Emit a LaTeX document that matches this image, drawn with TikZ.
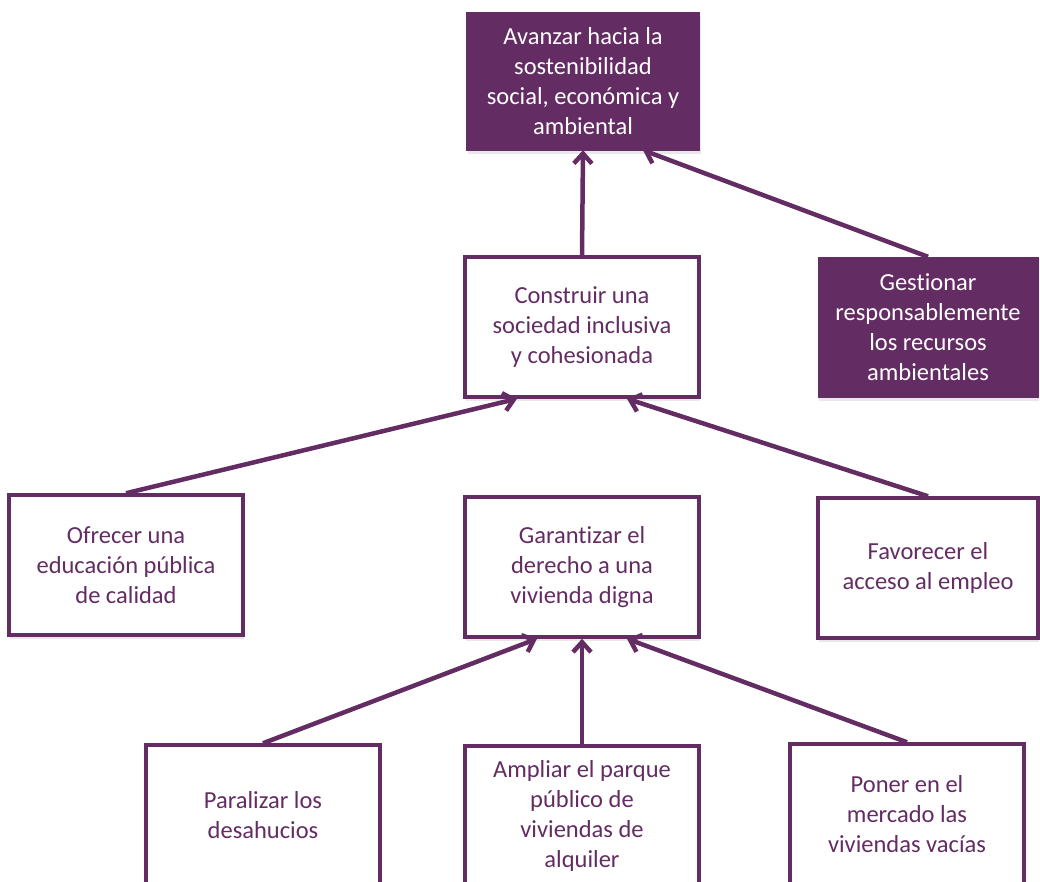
\documentclass[tikz,border=0pt]{standalone}
\usepackage{fontspec}
\setmainfont{Carlito}[Ligatures=NoCommon]
\usetikzlibrary{arrows.meta,shadows}
\definecolor{plum}{HTML}{632C63}
\tikzset{
  box/.style={rectangle, minimum width=234pt, minimum height=140pt, inner sep=2pt,
    align=center, font=\fontsize{24.5}{30}\selectfont,
    drop shadow={opacity=0.18, shadow xshift=1pt, shadow yshift=-4pt}},
  plainbox/.style={box, draw=plum, line width=3.5pt, fill=white, text=plum},
  darkbox/.style={box, fill=plum, draw=plum, text=white},
  link/.style={draw=plum, line width=4.5pt, -{Straight Barb[length=10pt,width=18pt,line width=4.5pt]}}
}
\begin{document}
\begin{tikzpicture}[x=1pt,y=-1pt]
\useasboundingbox (0,0) rectangle (1040,882);
\clip (0,0) rectangle (1040,882);
\node[darkbox, minimum width=233pt, minimum height=138pt] (top) at (583,81) {Avanzar hacia la\\sostenibilidad\\social, económica y\\ambiental};
\node[plainbox] (construir) at (582,327) {Construir una\\sociedad inclusiva\\y cohesionada};
\node[darkbox, minimum width=220pt] (gestionar) at (928,327) {Gestionar\\responsablemente\\los recursos\\ambientales};
\node[plainbox] (ofrecer) at (126,565) {Ofrecer una\\educación pública\\de calidad};
\node[plainbox] (garantizar) at (582,567) {Garantizar el\\derecho a una\\vivienda digna};
\node[plainbox, minimum width=220pt] (favorecer) at (928,568) {Favorecer el\\acceso al empleo};
\node[plainbox] (paralizar) at (263,815) {Paralizar los\\desahucios};
\node[plainbox] (ampliar) at (582,816) {Ampliar el parque\\público de\\viviendas de\\alquiler};
\node[plainbox] (poner) at (907,814) {Poner en el\\mercado las\\viviendas vacías};
\draw[link] (construir.north) -- (top.south);
\draw[link] (gestionar.north) -- ([xshift=60pt]top.south);
\draw[link] (ofrecer.north) -- ([xshift=-65pt]construir.south);
\draw[link] (favorecer.north) -- ([xshift=45pt]construir.south);
\draw[link] (paralizar.north) -- ([xshift=-45pt]garantizar.south);
\draw[link] (ampliar.north) -- (garantizar.south);
\draw[link] (poner.north) -- ([xshift=45pt]garantizar.south);
\end{tikzpicture}
\end{document}
